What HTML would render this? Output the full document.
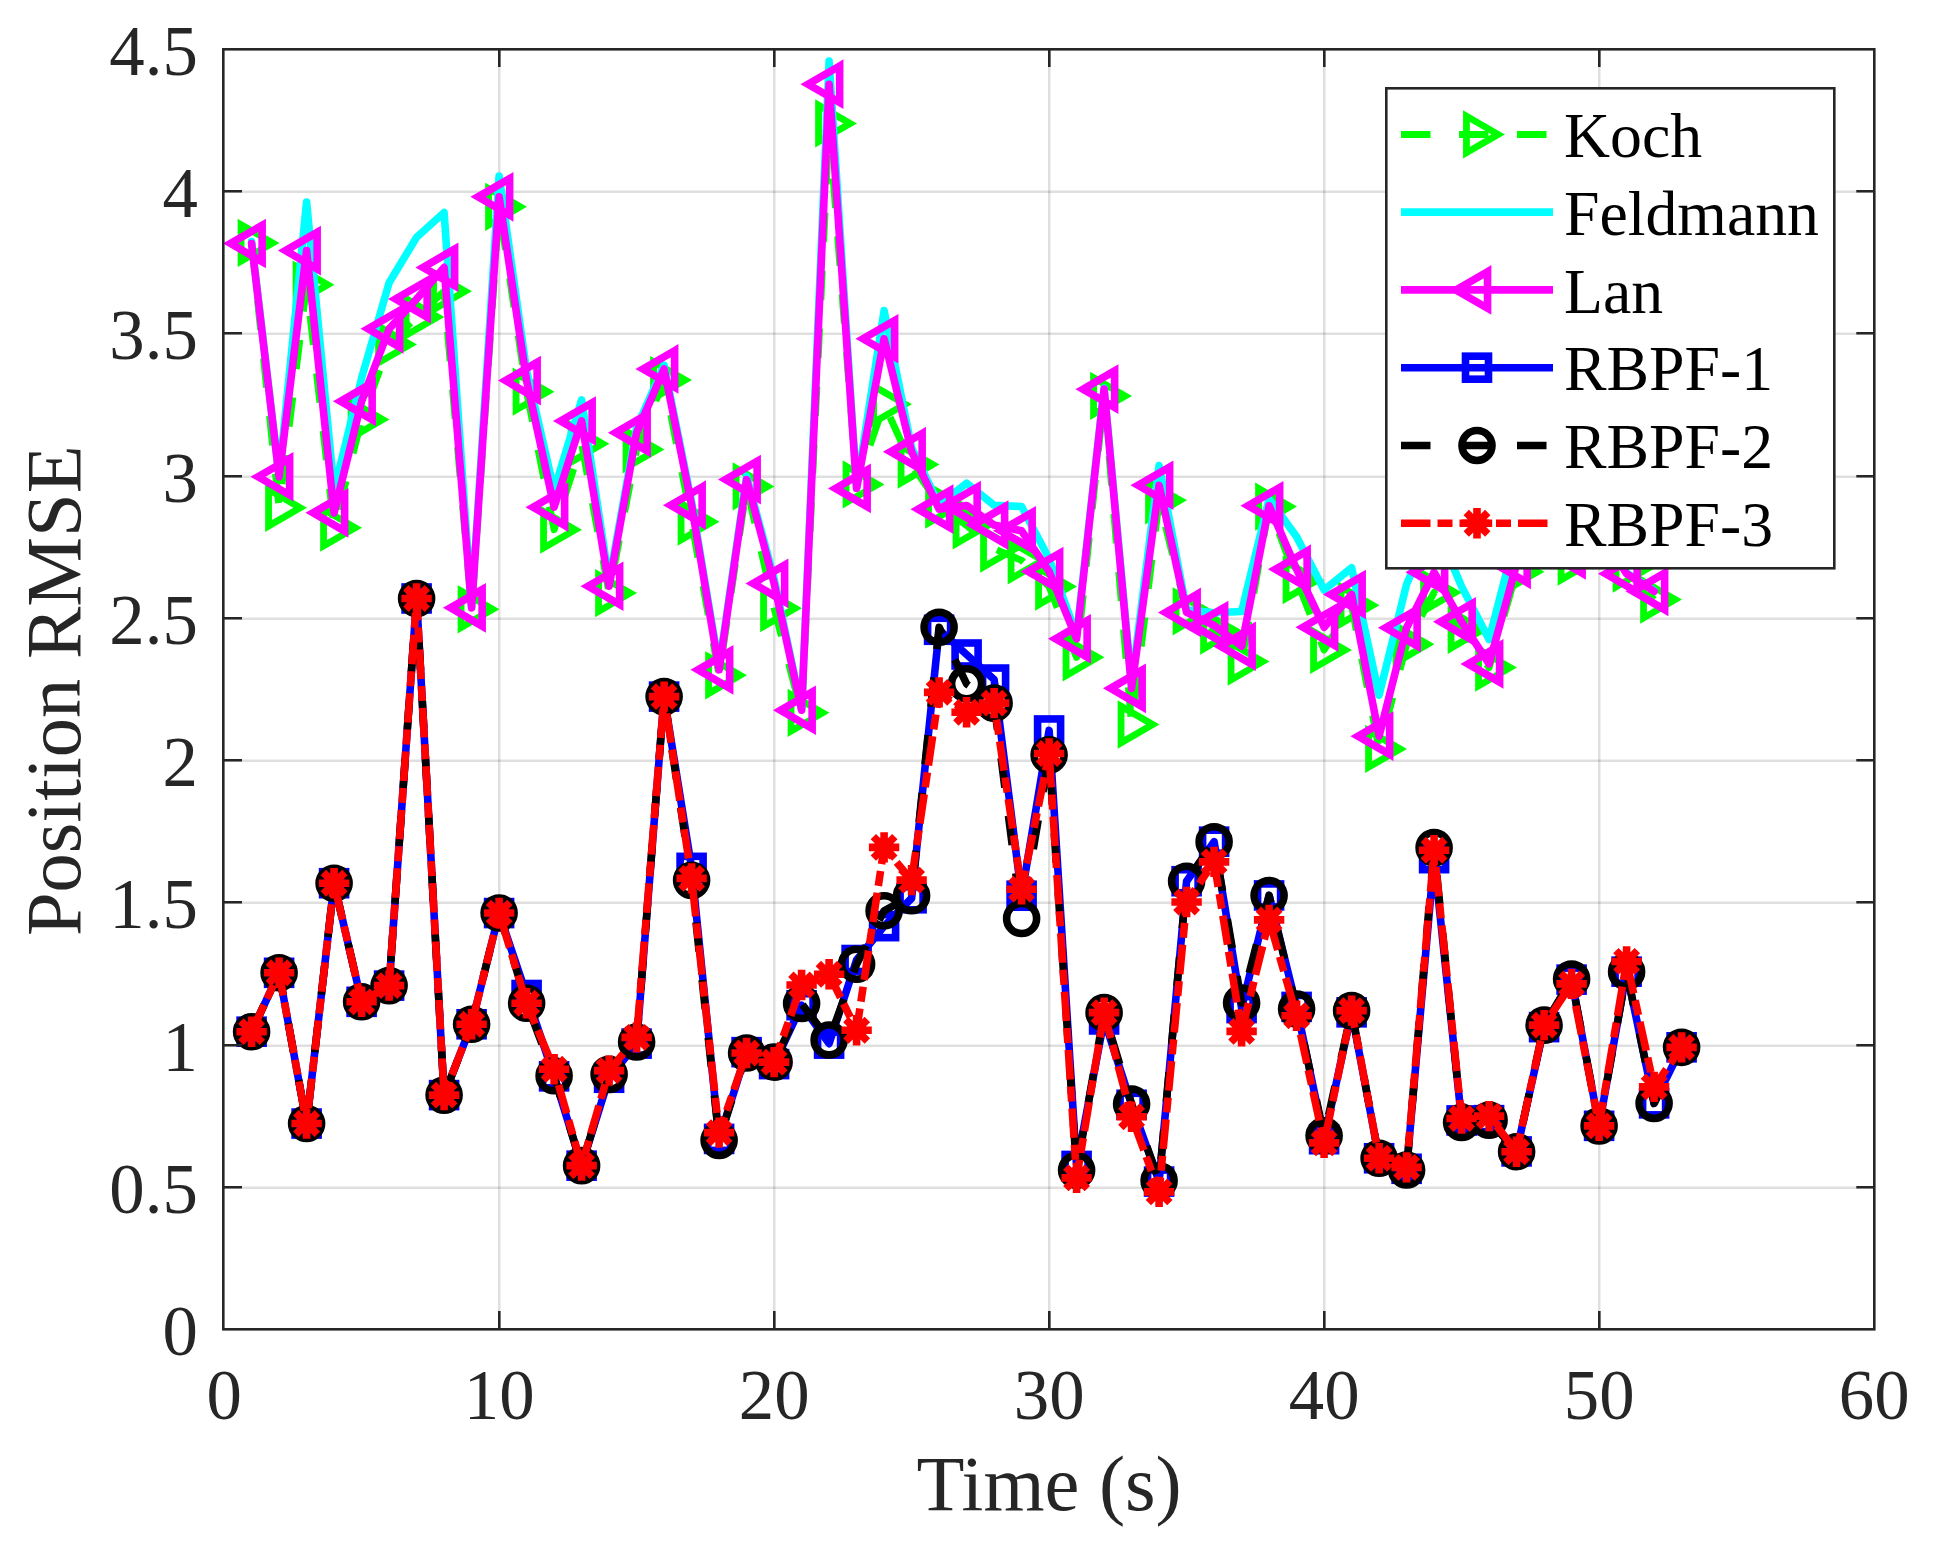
<!DOCTYPE html>
<html lang="en"><head><meta charset="utf-8"><title>Position RMSE</title>
<style>html,body{margin:0;padding:0;background:#fff}svg{display:block}text{font-family:"Liberation Serif",serif}</style>
</head><body>
<svg width="1938" height="1545" viewBox="0 0 1938 1545">
<rect width="1938" height="1545" fill="#fff"/>
<path d="M499.25 49.5 V1329.5 M774.25 49.5 V1329.5 M1049.25 49.5 V1329.5 M1324.25 49.5 V1329.5 M1599.25 49.5 V1329.5" stroke="#262626" stroke-opacity="0.15" stroke-width="2.5" fill="none"/>
<path d="M223.3 1187.75 H1874.3 M223.3 1045.75 H1874.3 M223.3 902.75 H1874.3 M223.3 760.75 H1874.3 M223.3 618.75 H1874.3 M223.3 476.75 H1874.3 M223.3 333.75 H1874.3 M223.3 191.75 H1874.3" stroke="#262626" stroke-opacity="0.15" stroke-width="2.5" fill="none"/>
<defs><clipPath id="ax"><rect x="224.1" y="49.5" width="1650" height="1280"/></clipPath></defs>
<g clip-path="url(#ax)">
<path d="M251.6 242.92 L279.1 507.74 L306.6 284.74 L334.1 527.65 L361.6 419.56 L389.1 344.47 L416.6 316.88 L444.1 291.28 L471.6 609.29 L499.1 206.8 L526.6 391.69 L554.1 529.64 L581.6 443.74 L609.1 593.07 L636.6 449.43 L664.1 380.02 L691.6 521.68 L719.1 675.28 L746.6 486.41 L774.1 608.15 L801.6 712.82 L829.1 123.46 L856.6 484.42 L884.1 404.2 L911.6 464.5 L939.1 504.61 L966.6 525.38 L994.1 548.7 L1021.6 560.36 L1049.1 586.53 L1076.6 657.36 L1104.1 395.95 L1131.6 724.49 L1159.1 500.34 L1186.6 611.28 L1214.1 630.62 L1241.6 661.62 L1269.1 506.6 L1296.6 579.99 L1324.1 649.96 L1351.6 605.3 L1379.1 748.95 L1406.6 644.27 L1434.1 592.5 L1461.6 629.77 L1489.1 667.6 L1516.6 571.74 L1544.1 538.74 L1571.6 561.5 L1599.1 538.74 L1626.6 568.61 L1654.1 599.62" fill="none" stroke="#00ff00" stroke-width="7" stroke-linejoin="round" stroke-linecap="butt" stroke-dasharray="29.5 28.5"/>
<g><path d="M241.06 224.67 L272.67 242.92 L241.06 261.17 Z" fill="none" stroke="#00ff00" stroke-width="6.8" stroke-linejoin="miter" stroke-miterlimit="10"/><path d="M268.56 489.49 L300.17 507.74 L268.56 525.99 Z" fill="none" stroke="#00ff00" stroke-width="6.8" stroke-linejoin="miter" stroke-miterlimit="10"/><path d="M296.06 266.49 L327.67 284.74 L296.06 302.99 Z" fill="none" stroke="#00ff00" stroke-width="6.8" stroke-linejoin="miter" stroke-miterlimit="10"/><path d="M323.56 509.4 L355.17 527.65 L323.56 545.9 Z" fill="none" stroke="#00ff00" stroke-width="6.8" stroke-linejoin="miter" stroke-miterlimit="10"/><path d="M351.06 401.31 L382.67 419.56 L351.06 437.81 Z" fill="none" stroke="#00ff00" stroke-width="6.8" stroke-linejoin="miter" stroke-miterlimit="10"/><path d="M378.56 326.22 L410.17 344.47 L378.56 362.72 Z" fill="none" stroke="#00ff00" stroke-width="6.8" stroke-linejoin="miter" stroke-miterlimit="10"/><path d="M406.06 298.63 L437.67 316.88 L406.06 335.13 Z" fill="none" stroke="#00ff00" stroke-width="6.8" stroke-linejoin="miter" stroke-miterlimit="10"/><path d="M433.56 273.03 L465.17 291.28 L433.56 309.53 Z" fill="none" stroke="#00ff00" stroke-width="6.8" stroke-linejoin="miter" stroke-miterlimit="10"/><path d="M461.06 591.04 L492.67 609.29 L461.06 627.54 Z" fill="none" stroke="#00ff00" stroke-width="6.8" stroke-linejoin="miter" stroke-miterlimit="10"/><path d="M488.56 188.55 L520.17 206.8 L488.56 225.05 Z" fill="none" stroke="#00ff00" stroke-width="6.8" stroke-linejoin="miter" stroke-miterlimit="10"/><path d="M516.06 373.44 L547.67 391.69 L516.06 409.94 Z" fill="none" stroke="#00ff00" stroke-width="6.8" stroke-linejoin="miter" stroke-miterlimit="10"/><path d="M543.56 511.39 L575.17 529.64 L543.56 547.89 Z" fill="none" stroke="#00ff00" stroke-width="6.8" stroke-linejoin="miter" stroke-miterlimit="10"/><path d="M571.06 425.49 L602.67 443.74 L571.06 461.99 Z" fill="none" stroke="#00ff00" stroke-width="6.8" stroke-linejoin="miter" stroke-miterlimit="10"/><path d="M598.56 574.82 L630.17 593.07 L598.56 611.32 Z" fill="none" stroke="#00ff00" stroke-width="6.8" stroke-linejoin="miter" stroke-miterlimit="10"/><path d="M626.06 431.18 L657.67 449.43 L626.06 467.68 Z" fill="none" stroke="#00ff00" stroke-width="6.8" stroke-linejoin="miter" stroke-miterlimit="10"/><path d="M653.56 361.77 L685.17 380.02 L653.56 398.27 Z" fill="none" stroke="#00ff00" stroke-width="6.8" stroke-linejoin="miter" stroke-miterlimit="10"/><path d="M681.06 503.43 L712.67 521.68 L681.06 539.93 Z" fill="none" stroke="#00ff00" stroke-width="6.8" stroke-linejoin="miter" stroke-miterlimit="10"/><path d="M708.56 657.03 L740.17 675.28 L708.56 693.53 Z" fill="none" stroke="#00ff00" stroke-width="6.8" stroke-linejoin="miter" stroke-miterlimit="10"/><path d="M736.06 468.16 L767.67 486.41 L736.06 504.66 Z" fill="none" stroke="#00ff00" stroke-width="6.8" stroke-linejoin="miter" stroke-miterlimit="10"/><path d="M763.56 589.9 L795.17 608.15 L763.56 626.4 Z" fill="none" stroke="#00ff00" stroke-width="6.8" stroke-linejoin="miter" stroke-miterlimit="10"/><path d="M791.06 694.57 L822.67 712.82 L791.06 731.07 Z" fill="none" stroke="#00ff00" stroke-width="6.8" stroke-linejoin="miter" stroke-miterlimit="10"/><path d="M818.56 105.21 L850.17 123.46 L818.56 141.71 Z" fill="none" stroke="#00ff00" stroke-width="6.8" stroke-linejoin="miter" stroke-miterlimit="10"/><path d="M846.06 466.17 L877.67 484.42 L846.06 502.67 Z" fill="none" stroke="#00ff00" stroke-width="6.8" stroke-linejoin="miter" stroke-miterlimit="10"/><path d="M873.56 385.95 L905.17 404.2 L873.56 422.45 Z" fill="none" stroke="#00ff00" stroke-width="6.8" stroke-linejoin="miter" stroke-miterlimit="10"/><path d="M901.06 446.25 L932.67 464.5 L901.06 482.75 Z" fill="none" stroke="#00ff00" stroke-width="6.8" stroke-linejoin="miter" stroke-miterlimit="10"/><path d="M928.56 486.36 L960.17 504.61 L928.56 522.86 Z" fill="none" stroke="#00ff00" stroke-width="6.8" stroke-linejoin="miter" stroke-miterlimit="10"/><path d="M956.06 507.13 L987.67 525.38 L956.06 543.63 Z" fill="none" stroke="#00ff00" stroke-width="6.8" stroke-linejoin="miter" stroke-miterlimit="10"/><path d="M983.56 530.45 L1015.17 548.7 L983.56 566.95 Z" fill="none" stroke="#00ff00" stroke-width="6.8" stroke-linejoin="miter" stroke-miterlimit="10"/><path d="M1011.06 542.11 L1042.67 560.36 L1011.06 578.61 Z" fill="none" stroke="#00ff00" stroke-width="6.8" stroke-linejoin="miter" stroke-miterlimit="10"/><path d="M1038.56 568.28 L1070.17 586.53 L1038.56 604.78 Z" fill="none" stroke="#00ff00" stroke-width="6.8" stroke-linejoin="miter" stroke-miterlimit="10"/><path d="M1066.06 639.11 L1097.67 657.36 L1066.06 675.61 Z" fill="none" stroke="#00ff00" stroke-width="6.8" stroke-linejoin="miter" stroke-miterlimit="10"/><path d="M1093.56 377.7 L1125.17 395.95 L1093.56 414.2 Z" fill="none" stroke="#00ff00" stroke-width="6.8" stroke-linejoin="miter" stroke-miterlimit="10"/><path d="M1121.06 706.24 L1152.67 724.49 L1121.06 742.74 Z" fill="none" stroke="#00ff00" stroke-width="6.8" stroke-linejoin="miter" stroke-miterlimit="10"/><path d="M1148.56 482.09 L1180.17 500.34 L1148.56 518.59 Z" fill="none" stroke="#00ff00" stroke-width="6.8" stroke-linejoin="miter" stroke-miterlimit="10"/><path d="M1176.06 593.03 L1207.67 611.28 L1176.06 629.53 Z" fill="none" stroke="#00ff00" stroke-width="6.8" stroke-linejoin="miter" stroke-miterlimit="10"/><path d="M1203.56 612.37 L1235.17 630.62 L1203.56 648.87 Z" fill="none" stroke="#00ff00" stroke-width="6.8" stroke-linejoin="miter" stroke-miterlimit="10"/><path d="M1231.06 643.37 L1262.67 661.62 L1231.06 679.87 Z" fill="none" stroke="#00ff00" stroke-width="6.8" stroke-linejoin="miter" stroke-miterlimit="10"/><path d="M1258.56 488.35 L1290.17 506.6 L1258.56 524.85 Z" fill="none" stroke="#00ff00" stroke-width="6.8" stroke-linejoin="miter" stroke-miterlimit="10"/><path d="M1286.06 561.74 L1317.67 579.99 L1286.06 598.24 Z" fill="none" stroke="#00ff00" stroke-width="6.8" stroke-linejoin="miter" stroke-miterlimit="10"/><path d="M1313.56 631.71 L1345.17 649.96 L1313.56 668.21 Z" fill="none" stroke="#00ff00" stroke-width="6.8" stroke-linejoin="miter" stroke-miterlimit="10"/><path d="M1341.06 587.05 L1372.67 605.3 L1341.06 623.55 Z" fill="none" stroke="#00ff00" stroke-width="6.8" stroke-linejoin="miter" stroke-miterlimit="10"/><path d="M1368.56 730.7 L1400.17 748.95 L1368.56 767.2 Z" fill="none" stroke="#00ff00" stroke-width="6.8" stroke-linejoin="miter" stroke-miterlimit="10"/><path d="M1396.06 626.02 L1427.67 644.27 L1396.06 662.52 Z" fill="none" stroke="#00ff00" stroke-width="6.8" stroke-linejoin="miter" stroke-miterlimit="10"/><path d="M1423.56 574.25 L1455.17 592.5 L1423.56 610.75 Z" fill="none" stroke="#00ff00" stroke-width="6.8" stroke-linejoin="miter" stroke-miterlimit="10"/><path d="M1451.06 611.52 L1482.67 629.77 L1451.06 648.02 Z" fill="none" stroke="#00ff00" stroke-width="6.8" stroke-linejoin="miter" stroke-miterlimit="10"/><path d="M1478.56 649.35 L1510.17 667.6 L1478.56 685.85 Z" fill="none" stroke="#00ff00" stroke-width="6.8" stroke-linejoin="miter" stroke-miterlimit="10"/><path d="M1506.06 553.49 L1537.67 571.74 L1506.06 589.99 Z" fill="none" stroke="#00ff00" stroke-width="6.8" stroke-linejoin="miter" stroke-miterlimit="10"/><path d="M1533.56 520.49 L1565.17 538.74 L1533.56 556.99 Z" fill="none" stroke="#00ff00" stroke-width="6.8" stroke-linejoin="miter" stroke-miterlimit="10"/><path d="M1561.06 543.25 L1592.67 561.5 L1561.06 579.75 Z" fill="none" stroke="#00ff00" stroke-width="6.8" stroke-linejoin="miter" stroke-miterlimit="10"/><path d="M1588.56 520.49 L1620.17 538.74 L1588.56 556.99 Z" fill="none" stroke="#00ff00" stroke-width="6.8" stroke-linejoin="miter" stroke-miterlimit="10"/><path d="M1616.06 550.36 L1647.67 568.61 L1616.06 586.86 Z" fill="none" stroke="#00ff00" stroke-width="6.8" stroke-linejoin="miter" stroke-miterlimit="10"/><path d="M1643.56 581.37 L1675.17 599.62 L1643.56 617.87 Z" fill="none" stroke="#00ff00" stroke-width="6.8" stroke-linejoin="miter" stroke-miterlimit="10"/></g>
<path d="M251.6 241.5 L279.1 476.17 L306.6 201.96 L334.1 490.39 L361.6 378.03 L389.1 282.74 L416.6 237.23 L444.1 212.49 L471.6 607.01 L499.1 176.08 L526.6 370.92 L554.1 490.39 L581.6 399.94 L609.1 581.41 L636.6 427.81 L664.1 365.23 L691.6 501.77 L719.1 666.74 L746.6 476.17 L774.1 578.57 L801.6 709.41 L829.1 61.16 L856.6 487.54 L884.1 310.62 L911.6 447.72 L939.1 504.61 L966.6 483.28 L994.1 505.18 L1021.6 506.6 L1049.1 558.66 L1076.6 635.46 L1104.1 387.99 L1131.6 683.81 L1159.1 465.64 L1186.6 609.86 L1214.1 612.7 L1241.6 611.56 L1269.1 498.92 L1296.6 536.75 L1324.1 589.94 L1351.6 567.76 L1379.1 695.19 L1406.6 584.26 L1434.1 521.68 L1461.6 586.53 L1489.1 639.44 L1516.6 533.06 L1544.1 518.83 L1571.6 533.06 L1599.1 518.83 L1626.6 572.88 L1654.1 590.8" fill="none" stroke="#00ffff" stroke-width="7.6" stroke-linejoin="round" stroke-linecap="round"/>
<path d="M251.6 243.49 L279.1 476.74 L306.6 250.6 L334.1 512.86 L361.6 401.36 L389.1 328.82 L416.6 298.96 L444.1 267.38 L471.6 607.86 L499.1 196.84 L526.6 380.59 L554.1 507.17 L581.6 420.98 L609.1 586.25 L636.6 432.65 L664.1 368.93 L691.6 505.18 L719.1 669.87 L746.6 479.58 L774.1 583.4 L801.6 710.26 L829.1 84.2 L856.6 488.4 L884.1 338.78 L911.6 451.7 L939.1 509.16 L966.6 505.46 L994.1 525.09 L1021.6 530.78 L1049.1 571.46 L1076.6 638.87 L1104.1 389.13 L1131.6 688.36 L1159.1 485.27 L1186.6 612.42 L1214.1 625.5 L1241.6 646.26 L1269.1 505.75 L1296.6 569.18 L1324.1 627.21 L1351.6 594.5 L1379.1 736.15 L1406.6 627.78 L1434.1 572.31 L1461.6 621.8 L1489.1 663.9 L1516.6 564.34 L1544.1 538.74 L1571.6 554.96 L1599.1 533.06 L1626.6 573.73 L1654.1 591.37" fill="none" stroke="#ff00ff" stroke-width="7.6" stroke-linejoin="round" stroke-linecap="round"/>
<g><path d="M262.14 225.24 L230.53 243.49 L262.14 261.74 Z" fill="none" stroke="#ff00ff" stroke-width="7.6" stroke-linejoin="miter" stroke-miterlimit="10"/><path d="M289.64 458.49 L258.03 476.74 L289.64 494.99 Z" fill="none" stroke="#ff00ff" stroke-width="7.6" stroke-linejoin="miter" stroke-miterlimit="10"/><path d="M317.14 232.35 L285.53 250.6 L317.14 268.85 Z" fill="none" stroke="#ff00ff" stroke-width="7.6" stroke-linejoin="miter" stroke-miterlimit="10"/><path d="M344.64 494.61 L313.03 512.86 L344.64 531.11 Z" fill="none" stroke="#ff00ff" stroke-width="7.6" stroke-linejoin="miter" stroke-miterlimit="10"/><path d="M372.14 383.11 L340.53 401.36 L372.14 419.61 Z" fill="none" stroke="#ff00ff" stroke-width="7.6" stroke-linejoin="miter" stroke-miterlimit="10"/><path d="M399.64 310.57 L368.03 328.82 L399.64 347.07 Z" fill="none" stroke="#ff00ff" stroke-width="7.6" stroke-linejoin="miter" stroke-miterlimit="10"/><path d="M427.14 280.71 L395.53 298.96 L427.14 317.21 Z" fill="none" stroke="#ff00ff" stroke-width="7.6" stroke-linejoin="miter" stroke-miterlimit="10"/><path d="M454.64 249.13 L423.03 267.38 L454.64 285.63 Z" fill="none" stroke="#ff00ff" stroke-width="7.6" stroke-linejoin="miter" stroke-miterlimit="10"/><path d="M482.14 589.61 L450.53 607.86 L482.14 626.11 Z" fill="none" stroke="#ff00ff" stroke-width="7.6" stroke-linejoin="miter" stroke-miterlimit="10"/><path d="M509.64 178.59 L478.03 196.84 L509.64 215.09 Z" fill="none" stroke="#ff00ff" stroke-width="7.6" stroke-linejoin="miter" stroke-miterlimit="10"/><path d="M537.14 362.34 L505.53 380.59 L537.14 398.84 Z" fill="none" stroke="#ff00ff" stroke-width="7.6" stroke-linejoin="miter" stroke-miterlimit="10"/><path d="M564.64 488.92 L533.03 507.17 L564.64 525.42 Z" fill="none" stroke="#ff00ff" stroke-width="7.6" stroke-linejoin="miter" stroke-miterlimit="10"/><path d="M592.14 402.73 L560.53 420.98 L592.14 439.23 Z" fill="none" stroke="#ff00ff" stroke-width="7.6" stroke-linejoin="miter" stroke-miterlimit="10"/><path d="M619.64 568 L588.03 586.25 L619.64 604.5 Z" fill="none" stroke="#ff00ff" stroke-width="7.6" stroke-linejoin="miter" stroke-miterlimit="10"/><path d="M647.14 414.4 L615.53 432.65 L647.14 450.9 Z" fill="none" stroke="#ff00ff" stroke-width="7.6" stroke-linejoin="miter" stroke-miterlimit="10"/><path d="M674.64 350.68 L643.03 368.93 L674.64 387.18 Z" fill="none" stroke="#ff00ff" stroke-width="7.6" stroke-linejoin="miter" stroke-miterlimit="10"/><path d="M702.14 486.93 L670.53 505.18 L702.14 523.43 Z" fill="none" stroke="#ff00ff" stroke-width="7.6" stroke-linejoin="miter" stroke-miterlimit="10"/><path d="M729.64 651.62 L698.03 669.87 L729.64 688.12 Z" fill="none" stroke="#ff00ff" stroke-width="7.6" stroke-linejoin="miter" stroke-miterlimit="10"/><path d="M757.14 461.33 L725.53 479.58 L757.14 497.83 Z" fill="none" stroke="#ff00ff" stroke-width="7.6" stroke-linejoin="miter" stroke-miterlimit="10"/><path d="M784.64 565.15 L753.03 583.4 L784.64 601.65 Z" fill="none" stroke="#ff00ff" stroke-width="7.6" stroke-linejoin="miter" stroke-miterlimit="10"/><path d="M812.14 692.01 L780.53 710.26 L812.14 728.51 Z" fill="none" stroke="#ff00ff" stroke-width="7.6" stroke-linejoin="miter" stroke-miterlimit="10"/><path d="M839.64 65.95 L808.03 84.2 L839.64 102.45 Z" fill="none" stroke="#ff00ff" stroke-width="7.6" stroke-linejoin="miter" stroke-miterlimit="10"/><path d="M867.14 470.15 L835.53 488.4 L867.14 506.65 Z" fill="none" stroke="#ff00ff" stroke-width="7.6" stroke-linejoin="miter" stroke-miterlimit="10"/><path d="M894.64 320.53 L863.03 338.78 L894.64 357.03 Z" fill="none" stroke="#ff00ff" stroke-width="7.6" stroke-linejoin="miter" stroke-miterlimit="10"/><path d="M922.14 433.45 L890.53 451.7 L922.14 469.95 Z" fill="none" stroke="#ff00ff" stroke-width="7.6" stroke-linejoin="miter" stroke-miterlimit="10"/><path d="M949.64 490.91 L918.03 509.16 L949.64 527.41 Z" fill="none" stroke="#ff00ff" stroke-width="7.6" stroke-linejoin="miter" stroke-miterlimit="10"/><path d="M977.14 487.21 L945.53 505.46 L977.14 523.71 Z" fill="none" stroke="#ff00ff" stroke-width="7.6" stroke-linejoin="miter" stroke-miterlimit="10"/><path d="M1004.64 506.84 L973.03 525.09 L1004.64 543.34 Z" fill="none" stroke="#ff00ff" stroke-width="7.6" stroke-linejoin="miter" stroke-miterlimit="10"/><path d="M1032.14 512.53 L1000.53 530.78 L1032.14 549.03 Z" fill="none" stroke="#ff00ff" stroke-width="7.6" stroke-linejoin="miter" stroke-miterlimit="10"/><path d="M1059.64 553.21 L1028.03 571.46 L1059.64 589.71 Z" fill="none" stroke="#ff00ff" stroke-width="7.6" stroke-linejoin="miter" stroke-miterlimit="10"/><path d="M1087.14 620.62 L1055.53 638.87 L1087.14 657.12 Z" fill="none" stroke="#ff00ff" stroke-width="7.6" stroke-linejoin="miter" stroke-miterlimit="10"/><path d="M1114.64 370.88 L1083.03 389.13 L1114.64 407.38 Z" fill="none" stroke="#ff00ff" stroke-width="7.6" stroke-linejoin="miter" stroke-miterlimit="10"/><path d="M1142.14 670.11 L1110.53 688.36 L1142.14 706.61 Z" fill="none" stroke="#ff00ff" stroke-width="7.6" stroke-linejoin="miter" stroke-miterlimit="10"/><path d="M1169.64 467.02 L1138.03 485.27 L1169.64 503.52 Z" fill="none" stroke="#ff00ff" stroke-width="7.6" stroke-linejoin="miter" stroke-miterlimit="10"/><path d="M1197.14 594.17 L1165.53 612.42 L1197.14 630.67 Z" fill="none" stroke="#ff00ff" stroke-width="7.6" stroke-linejoin="miter" stroke-miterlimit="10"/><path d="M1224.64 607.25 L1193.03 625.5 L1224.64 643.75 Z" fill="none" stroke="#ff00ff" stroke-width="7.6" stroke-linejoin="miter" stroke-miterlimit="10"/><path d="M1252.14 628.01 L1220.53 646.26 L1252.14 664.51 Z" fill="none" stroke="#ff00ff" stroke-width="7.6" stroke-linejoin="miter" stroke-miterlimit="10"/><path d="M1279.64 487.5 L1248.03 505.75 L1279.64 524 Z" fill="none" stroke="#ff00ff" stroke-width="7.6" stroke-linejoin="miter" stroke-miterlimit="10"/><path d="M1307.14 550.93 L1275.53 569.18 L1307.14 587.43 Z" fill="none" stroke="#ff00ff" stroke-width="7.6" stroke-linejoin="miter" stroke-miterlimit="10"/><path d="M1334.64 608.96 L1303.03 627.21 L1334.64 645.46 Z" fill="none" stroke="#ff00ff" stroke-width="7.6" stroke-linejoin="miter" stroke-miterlimit="10"/><path d="M1362.14 576.25 L1330.53 594.5 L1362.14 612.75 Z" fill="none" stroke="#ff00ff" stroke-width="7.6" stroke-linejoin="miter" stroke-miterlimit="10"/><path d="M1389.64 717.9 L1358.03 736.15 L1389.64 754.4 Z" fill="none" stroke="#ff00ff" stroke-width="7.6" stroke-linejoin="miter" stroke-miterlimit="10"/><path d="M1417.14 609.53 L1385.53 627.78 L1417.14 646.03 Z" fill="none" stroke="#ff00ff" stroke-width="7.6" stroke-linejoin="miter" stroke-miterlimit="10"/><path d="M1444.64 554.06 L1413.03 572.31 L1444.64 590.56 Z" fill="none" stroke="#ff00ff" stroke-width="7.6" stroke-linejoin="miter" stroke-miterlimit="10"/><path d="M1472.14 603.55 L1440.53 621.8 L1472.14 640.05 Z" fill="none" stroke="#ff00ff" stroke-width="7.6" stroke-linejoin="miter" stroke-miterlimit="10"/><path d="M1499.64 645.65 L1468.03 663.9 L1499.64 682.15 Z" fill="none" stroke="#ff00ff" stroke-width="7.6" stroke-linejoin="miter" stroke-miterlimit="10"/><path d="M1527.14 546.09 L1495.53 564.34 L1527.14 582.59 Z" fill="none" stroke="#ff00ff" stroke-width="7.6" stroke-linejoin="miter" stroke-miterlimit="10"/><path d="M1554.64 520.49 L1523.03 538.74 L1554.64 556.99 Z" fill="none" stroke="#ff00ff" stroke-width="7.6" stroke-linejoin="miter" stroke-miterlimit="10"/><path d="M1582.14 536.71 L1550.53 554.96 L1582.14 573.21 Z" fill="none" stroke="#ff00ff" stroke-width="7.6" stroke-linejoin="miter" stroke-miterlimit="10"/><path d="M1609.64 514.81 L1578.03 533.06 L1609.64 551.31 Z" fill="none" stroke="#ff00ff" stroke-width="7.6" stroke-linejoin="miter" stroke-miterlimit="10"/><path d="M1637.14 555.48 L1605.53 573.73 L1637.14 591.98 Z" fill="none" stroke="#ff00ff" stroke-width="7.6" stroke-linejoin="miter" stroke-miterlimit="10"/><path d="M1664.64 573.12 L1633.03 591.37 L1664.64 609.62 Z" fill="none" stroke="#ff00ff" stroke-width="7.6" stroke-linejoin="miter" stroke-miterlimit="10"/></g>
<path d="M251.6 1031.69 L279.1 972.81 L306.6 1123.56 L334.1 883.21 L361.6 1001.82 L389.1 985.61 L416.6 598.48 L444.1 1095.12 L471.6 1024.29 L499.1 913.07 L526.6 994.99 L554.1 1076.34 L581.6 1165.66 L609.1 1077.77 L636.6 1043.63 L664.1 696.61 L691.6 867.85 L719.1 1138.92 L746.6 1052.17 L774.1 1064.11 L801.6 1005.23 L829.1 1043.63 L856.6 960.01 L884.1 926.16 L911.6 898.28 L939.1 629.77 L966.6 654.51 L994.1 679.54 L1021.6 895.72 L1049.1 730.46 L1076.6 1165.94 L1104.1 1019.46 L1131.6 1104.79 L1159.1 1181.59 L1186.6 881.22 L1214.1 841.68 L1241.6 1008.08 L1269.1 895.44 L1296.6 1006.94 L1324.1 1139.21 L1351.6 1012.34 L1379.1 1158.26 L1406.6 1168.79 L1434.1 858.18 L1461.6 1120.43 L1489.1 1120.15 L1516.6 1151.44 L1544.1 1027.14 L1571.6 979.63 L1599.1 1125.84 L1626.6 971.67 L1654.1 1103.37 L1681.6 1047.33" fill="none" stroke="#0000ff" stroke-width="7.6" stroke-linejoin="round" stroke-linecap="round"/>
<g><rect x="240.1" y="1020.19" width="23" height="23" fill="none" stroke="#0000ff" stroke-width="7.6"/><rect x="267.6" y="961.31" width="23" height="23" fill="none" stroke="#0000ff" stroke-width="7.6"/><rect x="295.1" y="1112.06" width="23" height="23" fill="none" stroke="#0000ff" stroke-width="7.6"/><rect x="322.6" y="871.71" width="23" height="23" fill="none" stroke="#0000ff" stroke-width="7.6"/><rect x="350.1" y="990.32" width="23" height="23" fill="none" stroke="#0000ff" stroke-width="7.6"/><rect x="377.6" y="974.11" width="23" height="23" fill="none" stroke="#0000ff" stroke-width="7.6"/><rect x="405.1" y="586.98" width="23" height="23" fill="none" stroke="#0000ff" stroke-width="7.6"/><rect x="432.6" y="1083.62" width="23" height="23" fill="none" stroke="#0000ff" stroke-width="7.6"/><rect x="460.1" y="1012.79" width="23" height="23" fill="none" stroke="#0000ff" stroke-width="7.6"/><rect x="487.6" y="901.57" width="23" height="23" fill="none" stroke="#0000ff" stroke-width="7.6"/><rect x="515.1" y="983.49" width="23" height="23" fill="none" stroke="#0000ff" stroke-width="7.6"/><rect x="542.6" y="1064.84" width="23" height="23" fill="none" stroke="#0000ff" stroke-width="7.6"/><rect x="570.1" y="1154.16" width="23" height="23" fill="none" stroke="#0000ff" stroke-width="7.6"/><rect x="597.6" y="1066.27" width="23" height="23" fill="none" stroke="#0000ff" stroke-width="7.6"/><rect x="625.1" y="1032.13" width="23" height="23" fill="none" stroke="#0000ff" stroke-width="7.6"/><rect x="652.6" y="685.11" width="23" height="23" fill="none" stroke="#0000ff" stroke-width="7.6"/><rect x="680.1" y="856.35" width="23" height="23" fill="none" stroke="#0000ff" stroke-width="7.6"/><rect x="707.6" y="1127.42" width="23" height="23" fill="none" stroke="#0000ff" stroke-width="7.6"/><rect x="735.1" y="1040.67" width="23" height="23" fill="none" stroke="#0000ff" stroke-width="7.6"/><rect x="762.6" y="1052.61" width="23" height="23" fill="none" stroke="#0000ff" stroke-width="7.6"/><rect x="790.1" y="993.73" width="23" height="23" fill="none" stroke="#0000ff" stroke-width="7.6"/><rect x="817.6" y="1032.13" width="23" height="23" fill="none" stroke="#0000ff" stroke-width="7.6"/><rect x="845.1" y="948.51" width="23" height="23" fill="none" stroke="#0000ff" stroke-width="7.6"/><rect x="872.6" y="914.66" width="23" height="23" fill="none" stroke="#0000ff" stroke-width="7.6"/><rect x="900.1" y="886.78" width="23" height="23" fill="none" stroke="#0000ff" stroke-width="7.6"/><rect x="927.6" y="618.27" width="23" height="23" fill="none" stroke="#0000ff" stroke-width="7.6"/><rect x="955.1" y="643.01" width="23" height="23" fill="none" stroke="#0000ff" stroke-width="7.6"/><rect x="982.6" y="668.04" width="23" height="23" fill="none" stroke="#0000ff" stroke-width="7.6"/><rect x="1010.1" y="884.22" width="23" height="23" fill="none" stroke="#0000ff" stroke-width="7.6"/><rect x="1037.6" y="718.96" width="23" height="23" fill="none" stroke="#0000ff" stroke-width="7.6"/><rect x="1065.1" y="1154.44" width="23" height="23" fill="none" stroke="#0000ff" stroke-width="7.6"/><rect x="1092.6" y="1007.96" width="23" height="23" fill="none" stroke="#0000ff" stroke-width="7.6"/><rect x="1120.1" y="1093.29" width="23" height="23" fill="none" stroke="#0000ff" stroke-width="7.6"/><rect x="1147.6" y="1170.09" width="23" height="23" fill="none" stroke="#0000ff" stroke-width="7.6"/><rect x="1175.1" y="869.72" width="23" height="23" fill="none" stroke="#0000ff" stroke-width="7.6"/><rect x="1202.6" y="830.18" width="23" height="23" fill="none" stroke="#0000ff" stroke-width="7.6"/><rect x="1230.1" y="996.58" width="23" height="23" fill="none" stroke="#0000ff" stroke-width="7.6"/><rect x="1257.6" y="883.94" width="23" height="23" fill="none" stroke="#0000ff" stroke-width="7.6"/><rect x="1285.1" y="995.44" width="23" height="23" fill="none" stroke="#0000ff" stroke-width="7.6"/><rect x="1312.6" y="1127.71" width="23" height="23" fill="none" stroke="#0000ff" stroke-width="7.6"/><rect x="1340.1" y="1000.84" width="23" height="23" fill="none" stroke="#0000ff" stroke-width="7.6"/><rect x="1367.6" y="1146.76" width="23" height="23" fill="none" stroke="#0000ff" stroke-width="7.6"/><rect x="1395.1" y="1157.29" width="23" height="23" fill="none" stroke="#0000ff" stroke-width="7.6"/><rect x="1422.6" y="846.68" width="23" height="23" fill="none" stroke="#0000ff" stroke-width="7.6"/><rect x="1450.1" y="1108.93" width="23" height="23" fill="none" stroke="#0000ff" stroke-width="7.6"/><rect x="1477.6" y="1108.65" width="23" height="23" fill="none" stroke="#0000ff" stroke-width="7.6"/><rect x="1505.1" y="1139.94" width="23" height="23" fill="none" stroke="#0000ff" stroke-width="7.6"/><rect x="1532.6" y="1015.64" width="23" height="23" fill="none" stroke="#0000ff" stroke-width="7.6"/><rect x="1560.1" y="968.13" width="23" height="23" fill="none" stroke="#0000ff" stroke-width="7.6"/><rect x="1587.6" y="1114.34" width="23" height="23" fill="none" stroke="#0000ff" stroke-width="7.6"/><rect x="1615.1" y="960.17" width="23" height="23" fill="none" stroke="#0000ff" stroke-width="7.6"/><rect x="1642.6" y="1091.87" width="23" height="23" fill="none" stroke="#0000ff" stroke-width="7.6"/><rect x="1670.1" y="1035.83" width="23" height="23" fill="none" stroke="#0000ff" stroke-width="7.6"/></g>
<path d="M251.6 1031.69 L279.1 972.81 L306.6 1123.56 L334.1 883.21 L361.6 1001.82 L389.1 985.61 L416.6 598.48 L444.1 1095.12 L471.6 1024.29 L499.1 913.07 L526.6 1003.24 L554.1 1075.78 L581.6 1165.66 L609.1 1074.35 L636.6 1041.93 L664.1 696.61 L691.6 880.36 L719.1 1140.34 L746.6 1053.02 L774.1 1062.12 L801.6 1003.53 L829.1 1039.94 L856.6 964.27 L884.1 910.8 L911.6 895.72 L939.1 627.21 L966.6 683.81 L994.1 703.15 L1021.6 918.48 L1049.1 754.92 L1076.6 1170.21 L1104.1 1012.63 L1131.6 1103.94 L1159.1 1180.74 L1186.6 881.22 L1214.1 841.68 L1241.6 1002.96 L1269.1 895.44 L1296.6 1008.93 L1324.1 1135.79 L1351.6 1010.64 L1379.1 1158.26 L1406.6 1169.93 L1434.1 847.65 L1461.6 1122.42 L1489.1 1120.15 L1516.6 1151.72 L1544.1 1025.14 L1571.6 979.06 L1599.1 1125.84 L1626.6 971.67 L1654.1 1103.37 L1681.6 1047.33" fill="none" stroke="#000000" stroke-width="7.6" stroke-linejoin="round" stroke-linecap="butt" stroke-dasharray="29.5 28.5"/>
<g><circle cx="251.6" cy="1031.69" r="15" fill="none" stroke="#000000" stroke-width="7.6"/><circle cx="279.1" cy="972.81" r="15" fill="none" stroke="#000000" stroke-width="7.6"/><circle cx="306.6" cy="1123.56" r="15" fill="none" stroke="#000000" stroke-width="7.6"/><circle cx="334.1" cy="883.21" r="15" fill="none" stroke="#000000" stroke-width="7.6"/><circle cx="361.6" cy="1001.82" r="15" fill="none" stroke="#000000" stroke-width="7.6"/><circle cx="389.1" cy="985.61" r="15" fill="none" stroke="#000000" stroke-width="7.6"/><circle cx="416.6" cy="598.48" r="15" fill="none" stroke="#000000" stroke-width="7.6"/><circle cx="444.1" cy="1095.12" r="15" fill="none" stroke="#000000" stroke-width="7.6"/><circle cx="471.6" cy="1024.29" r="15" fill="none" stroke="#000000" stroke-width="7.6"/><circle cx="499.1" cy="913.07" r="15" fill="none" stroke="#000000" stroke-width="7.6"/><circle cx="526.6" cy="1003.24" r="15" fill="none" stroke="#000000" stroke-width="7.6"/><circle cx="554.1" cy="1075.78" r="15" fill="none" stroke="#000000" stroke-width="7.6"/><circle cx="581.6" cy="1165.66" r="15" fill="none" stroke="#000000" stroke-width="7.6"/><circle cx="609.1" cy="1074.35" r="15" fill="none" stroke="#000000" stroke-width="7.6"/><circle cx="636.6" cy="1041.93" r="15" fill="none" stroke="#000000" stroke-width="7.6"/><circle cx="664.1" cy="696.61" r="15" fill="none" stroke="#000000" stroke-width="7.6"/><circle cx="691.6" cy="880.36" r="15" fill="none" stroke="#000000" stroke-width="7.6"/><circle cx="719.1" cy="1140.34" r="15" fill="none" stroke="#000000" stroke-width="7.6"/><circle cx="746.6" cy="1053.02" r="15" fill="none" stroke="#000000" stroke-width="7.6"/><circle cx="774.1" cy="1062.12" r="15" fill="none" stroke="#000000" stroke-width="7.6"/><circle cx="801.6" cy="1003.53" r="15" fill="none" stroke="#000000" stroke-width="7.6"/><circle cx="829.1" cy="1039.94" r="15" fill="none" stroke="#000000" stroke-width="7.6"/><circle cx="856.6" cy="964.27" r="15" fill="none" stroke="#000000" stroke-width="7.6"/><circle cx="884.1" cy="910.8" r="15" fill="none" stroke="#000000" stroke-width="7.6"/><circle cx="911.6" cy="895.72" r="15" fill="none" stroke="#000000" stroke-width="7.6"/><circle cx="939.1" cy="627.21" r="15" fill="none" stroke="#000000" stroke-width="7.6"/><circle cx="966.6" cy="683.81" r="15" fill="none" stroke="#000000" stroke-width="7.6"/><circle cx="994.1" cy="703.15" r="15" fill="none" stroke="#000000" stroke-width="7.6"/><circle cx="1021.6" cy="918.48" r="15" fill="none" stroke="#000000" stroke-width="7.6"/><circle cx="1049.1" cy="754.92" r="15" fill="none" stroke="#000000" stroke-width="7.6"/><circle cx="1076.6" cy="1170.21" r="15" fill="none" stroke="#000000" stroke-width="7.6"/><circle cx="1104.1" cy="1012.63" r="15" fill="none" stroke="#000000" stroke-width="7.6"/><circle cx="1131.6" cy="1103.94" r="15" fill="none" stroke="#000000" stroke-width="7.6"/><circle cx="1159.1" cy="1180.74" r="15" fill="none" stroke="#000000" stroke-width="7.6"/><circle cx="1186.6" cy="881.22" r="15" fill="none" stroke="#000000" stroke-width="7.6"/><circle cx="1214.1" cy="841.68" r="15" fill="none" stroke="#000000" stroke-width="7.6"/><circle cx="1241.6" cy="1002.96" r="15" fill="none" stroke="#000000" stroke-width="7.6"/><circle cx="1269.1" cy="895.44" r="15" fill="none" stroke="#000000" stroke-width="7.6"/><circle cx="1296.6" cy="1008.93" r="15" fill="none" stroke="#000000" stroke-width="7.6"/><circle cx="1324.1" cy="1135.79" r="15" fill="none" stroke="#000000" stroke-width="7.6"/><circle cx="1351.6" cy="1010.64" r="15" fill="none" stroke="#000000" stroke-width="7.6"/><circle cx="1379.1" cy="1158.26" r="15" fill="none" stroke="#000000" stroke-width="7.6"/><circle cx="1406.6" cy="1169.93" r="15" fill="none" stroke="#000000" stroke-width="7.6"/><circle cx="1434.1" cy="847.65" r="15" fill="none" stroke="#000000" stroke-width="7.6"/><circle cx="1461.6" cy="1122.42" r="15" fill="none" stroke="#000000" stroke-width="7.6"/><circle cx="1489.1" cy="1120.15" r="15" fill="none" stroke="#000000" stroke-width="7.6"/><circle cx="1516.6" cy="1151.72" r="15" fill="none" stroke="#000000" stroke-width="7.6"/><circle cx="1544.1" cy="1025.14" r="15" fill="none" stroke="#000000" stroke-width="7.6"/><circle cx="1571.6" cy="979.06" r="15" fill="none" stroke="#000000" stroke-width="7.6"/><circle cx="1599.1" cy="1125.84" r="15" fill="none" stroke="#000000" stroke-width="7.6"/><circle cx="1626.6" cy="971.67" r="15" fill="none" stroke="#000000" stroke-width="7.6"/><circle cx="1654.1" cy="1103.37" r="15" fill="none" stroke="#000000" stroke-width="7.6"/><circle cx="1681.6" cy="1047.33" r="15" fill="none" stroke="#000000" stroke-width="7.6"/></g>
<path d="M251.6 1031.69 L279.1 972.81 L306.6 1123.56 L334.1 883.21 L361.6 1001.82 L389.1 985.61 L416.6 598.48 L444.1 1095.12 L471.6 1024.29 L499.1 913.07 L526.6 1003.24 L554.1 1069.23 L581.6 1165.66 L609.1 1070.66 L636.6 1037.38 L664.1 696.61 L691.6 878.37 L719.1 1132.66 L746.6 1053.02 L774.1 1062.12 L801.6 985.04 L829.1 974.23 L856.6 1030.26 L884.1 847.37 L911.6 880.08 L939.1 692.34 L966.6 712.26 L994.1 703.15 L1021.6 889.18 L1049.1 753.5 L1076.6 1177.89 L1104.1 1012.63 L1131.6 1116.74 L1159.1 1191.83 L1186.6 901.98 L1214.1 861.87 L1241.6 1031.4 L1269.1 919.9 L1296.6 1015.76 L1324.1 1142.9 L1351.6 1010.64 L1379.1 1158.26 L1406.6 1167.37 L1434.1 850.21 L1461.6 1118.44 L1489.1 1116.17 L1516.6 1151.72 L1544.1 1025.14 L1571.6 983.9 L1599.1 1125.84 L1626.6 961.43 L1654.1 1086.87 L1681.6 1047.33" fill="none" stroke="#ff0000" stroke-width="7.6" stroke-linejoin="round" stroke-linecap="butt" stroke-dasharray="29.5 7 15 7"/>
<g><path d="M236.4 1031.69 H266.8 M251.6 1016.49 V1046.89 M240.85 1020.94 L262.35 1042.43 M240.85 1042.43 L262.35 1020.94" fill="none" stroke="#ff0000" stroke-width="7.6"/><path d="M263.9 972.81 H294.3 M279.1 957.61 V988.01 M268.35 962.06 L289.85 983.55 M268.35 983.55 L289.85 962.06" fill="none" stroke="#ff0000" stroke-width="7.6"/><path d="M291.4 1123.56 H321.8 M306.6 1108.36 V1138.76 M295.85 1112.81 L317.35 1134.31 M295.85 1134.31 L317.35 1112.81" fill="none" stroke="#ff0000" stroke-width="7.6"/><path d="M318.9 883.21 H349.3 M334.1 868.01 V898.41 M323.35 872.46 L344.85 893.95 M323.35 893.95 L344.85 872.46" fill="none" stroke="#ff0000" stroke-width="7.6"/><path d="M346.4 1001.82 H376.8 M361.6 986.62 V1017.02 M350.85 991.07 L372.35 1012.57 M350.85 1012.57 L372.35 991.07" fill="none" stroke="#ff0000" stroke-width="7.6"/><path d="M373.9 985.61 H404.3 M389.1 970.41 V1000.81 M378.35 974.86 L399.85 996.35 M378.35 996.35 L399.85 974.86" fill="none" stroke="#ff0000" stroke-width="7.6"/><path d="M401.4 598.48 H431.8 M416.6 583.28 V613.68 M405.85 587.73 L427.35 609.23 M405.85 609.23 L427.35 587.73" fill="none" stroke="#ff0000" stroke-width="7.6"/><path d="M428.9 1095.12 H459.3 M444.1 1079.92 V1110.32 M433.35 1084.37 L454.85 1105.87 M433.35 1105.87 L454.85 1084.37" fill="none" stroke="#ff0000" stroke-width="7.6"/><path d="M456.4 1024.29 H486.8 M471.6 1009.09 V1039.49 M460.85 1013.54 L482.35 1035.04 M460.85 1035.04 L482.35 1013.54" fill="none" stroke="#ff0000" stroke-width="7.6"/><path d="M483.9 913.07 H514.3 M499.1 897.87 V928.27 M488.35 902.33 L509.85 923.82 M488.35 923.82 L509.85 902.33" fill="none" stroke="#ff0000" stroke-width="7.6"/><path d="M511.4 1003.24 H541.8 M526.6 988.04 V1018.44 M515.85 992.49 L537.35 1013.99 M515.85 1013.99 L537.35 992.49" fill="none" stroke="#ff0000" stroke-width="7.6"/><path d="M538.9 1069.23 H569.3 M554.1 1054.03 V1084.43 M543.35 1058.49 L564.85 1079.98 M543.35 1079.98 L564.85 1058.49" fill="none" stroke="#ff0000" stroke-width="7.6"/><path d="M566.4 1165.66 H596.8 M581.6 1150.46 V1180.86 M570.85 1154.91 L592.35 1176.41 M570.85 1176.41 L592.35 1154.91" fill="none" stroke="#ff0000" stroke-width="7.6"/><path d="M593.9 1070.66 H624.3 M609.1 1055.46 V1085.86 M598.35 1059.91 L619.85 1081.4 M598.35 1081.4 L619.85 1059.91" fill="none" stroke="#ff0000" stroke-width="7.6"/><path d="M621.4 1037.38 H651.8 M636.6 1022.18 V1052.58 M625.85 1026.63 L647.35 1048.12 M625.85 1048.12 L647.35 1026.63" fill="none" stroke="#ff0000" stroke-width="7.6"/><path d="M648.9 696.61 H679.3 M664.1 681.41 V711.81 M653.35 685.86 L674.85 707.36 M653.35 707.36 L674.85 685.86" fill="none" stroke="#ff0000" stroke-width="7.6"/><path d="M676.4 878.37 H706.8 M691.6 863.17 V893.57 M680.85 867.62 L702.35 889.12 M680.85 889.12 L702.35 867.62" fill="none" stroke="#ff0000" stroke-width="7.6"/><path d="M703.9 1132.66 H734.3 M719.1 1117.46 V1147.86 M708.35 1121.92 L729.85 1143.41 M708.35 1143.41 L729.85 1121.92" fill="none" stroke="#ff0000" stroke-width="7.6"/><path d="M731.4 1053.02 H761.8 M746.6 1037.82 V1068.22 M735.85 1042.27 L757.35 1063.77 M735.85 1063.77 L757.35 1042.27" fill="none" stroke="#ff0000" stroke-width="7.6"/><path d="M758.9 1062.12 H789.3 M774.1 1046.92 V1077.32 M763.35 1051.37 L784.85 1072.87 M763.35 1072.87 L784.85 1051.37" fill="none" stroke="#ff0000" stroke-width="7.6"/><path d="M786.4 985.04 H816.8 M801.6 969.84 V1000.24 M790.85 974.29 L812.35 995.79 M790.85 995.79 L812.35 974.29" fill="none" stroke="#ff0000" stroke-width="7.6"/><path d="M813.9 974.23 H844.3 M829.1 959.03 V989.43 M818.35 963.48 L839.85 984.98 M818.35 984.98 L839.85 963.48" fill="none" stroke="#ff0000" stroke-width="7.6"/><path d="M841.4 1030.26 H871.8 M856.6 1015.06 V1045.46 M845.85 1019.52 L867.35 1041.01 M845.85 1041.01 L867.35 1019.52" fill="none" stroke="#ff0000" stroke-width="7.6"/><path d="M868.9 847.37 H899.3 M884.1 832.17 V862.57 M873.35 836.62 L894.85 858.11 M873.35 858.11 L894.85 836.62" fill="none" stroke="#ff0000" stroke-width="7.6"/><path d="M896.4 880.08 H926.8 M911.6 864.88 V895.28 M900.85 869.33 L922.35 890.83 M900.85 890.83 L922.35 869.33" fill="none" stroke="#ff0000" stroke-width="7.6"/><path d="M923.9 692.34 H954.3 M939.1 677.14 V707.54 M928.35 681.6 L949.85 703.09 M928.35 703.09 L949.85 681.6" fill="none" stroke="#ff0000" stroke-width="7.6"/><path d="M951.4 712.26 H981.8 M966.6 697.06 V727.46 M955.85 701.51 L977.35 723 M955.85 723 L977.35 701.51" fill="none" stroke="#ff0000" stroke-width="7.6"/><path d="M978.9 703.15 H1009.3 M994.1 687.95 V718.35 M983.35 692.41 L1004.85 713.9 M983.35 713.9 L1004.85 692.41" fill="none" stroke="#ff0000" stroke-width="7.6"/><path d="M1006.4 889.18 H1036.8 M1021.6 873.98 V904.38 M1010.85 878.43 L1032.35 899.93 M1010.85 899.93 L1032.35 878.43" fill="none" stroke="#ff0000" stroke-width="7.6"/><path d="M1033.9 753.5 H1064.3 M1049.1 738.3 V768.7 M1038.35 742.75 L1059.85 764.25 M1038.35 764.25 L1059.85 742.75" fill="none" stroke="#ff0000" stroke-width="7.6"/><path d="M1061.4 1177.89 H1091.8 M1076.6 1162.69 V1193.09 M1065.85 1167.14 L1087.35 1188.64 M1065.85 1188.64 L1087.35 1167.14" fill="none" stroke="#ff0000" stroke-width="7.6"/><path d="M1088.9 1012.63 H1119.3 M1104.1 997.43 V1027.83 M1093.35 1001.88 L1114.85 1023.38 M1093.35 1023.38 L1114.85 1001.88" fill="none" stroke="#ff0000" stroke-width="7.6"/><path d="M1116.4 1116.74 H1146.8 M1131.6 1101.54 V1131.94 M1120.85 1105.99 L1142.35 1127.48 M1120.85 1127.48 L1142.35 1105.99" fill="none" stroke="#ff0000" stroke-width="7.6"/><path d="M1143.9 1191.83 H1174.3 M1159.1 1176.63 V1207.03 M1148.35 1181.08 L1169.85 1202.58 M1148.35 1202.58 L1169.85 1181.08" fill="none" stroke="#ff0000" stroke-width="7.6"/><path d="M1171.4 901.98 H1201.8 M1186.6 886.78 V917.18 M1175.85 891.23 L1197.35 912.73 M1175.85 912.73 L1197.35 891.23" fill="none" stroke="#ff0000" stroke-width="7.6"/><path d="M1198.9 861.87 H1229.3 M1214.1 846.67 V877.07 M1203.35 851.13 L1224.85 872.62 M1203.35 872.62 L1224.85 851.13" fill="none" stroke="#ff0000" stroke-width="7.6"/><path d="M1226.4 1031.4 H1256.8 M1241.6 1016.2 V1046.6 M1230.85 1020.65 L1252.35 1042.15 M1230.85 1042.15 L1252.35 1020.65" fill="none" stroke="#ff0000" stroke-width="7.6"/><path d="M1253.9 919.9 H1284.3 M1269.1 904.7 V935.1 M1258.35 909.15 L1279.85 930.65 M1258.35 930.65 L1279.85 909.15" fill="none" stroke="#ff0000" stroke-width="7.6"/><path d="M1281.4 1015.76 H1311.8 M1296.6 1000.56 V1030.96 M1285.85 1005.01 L1307.35 1026.51 M1285.85 1026.51 L1307.35 1005.01" fill="none" stroke="#ff0000" stroke-width="7.6"/><path d="M1308.9 1142.9 H1339.3 M1324.1 1127.7 V1158.1 M1313.35 1132.16 L1334.85 1153.65 M1313.35 1153.65 L1334.85 1132.16" fill="none" stroke="#ff0000" stroke-width="7.6"/><path d="M1336.4 1010.64 H1366.8 M1351.6 995.44 V1025.84 M1340.85 999.89 L1362.35 1021.39 M1340.85 1021.39 L1362.35 999.89" fill="none" stroke="#ff0000" stroke-width="7.6"/><path d="M1363.9 1158.26 H1394.3 M1379.1 1143.06 V1173.46 M1368.35 1147.52 L1389.85 1169.01 M1368.35 1169.01 L1389.85 1147.52" fill="none" stroke="#ff0000" stroke-width="7.6"/><path d="M1391.4 1167.37 H1421.8 M1406.6 1152.17 V1182.57 M1395.85 1156.62 L1417.35 1178.11 M1395.85 1178.11 L1417.35 1156.62" fill="none" stroke="#ff0000" stroke-width="7.6"/><path d="M1418.9 850.21 H1449.3 M1434.1 835.01 V865.41 M1423.35 839.46 L1444.85 860.96 M1423.35 860.96 L1444.85 839.46" fill="none" stroke="#ff0000" stroke-width="7.6"/><path d="M1446.4 1118.44 H1476.8 M1461.6 1103.24 V1133.64 M1450.85 1107.69 L1472.35 1129.19 M1450.85 1129.19 L1472.35 1107.69" fill="none" stroke="#ff0000" stroke-width="7.6"/><path d="M1473.9 1116.17 H1504.3 M1489.1 1100.97 V1131.37 M1478.35 1105.42 L1499.85 1126.91 M1478.35 1126.91 L1499.85 1105.42" fill="none" stroke="#ff0000" stroke-width="7.6"/><path d="M1501.4 1151.72 H1531.8 M1516.6 1136.52 V1166.92 M1505.85 1140.97 L1527.35 1162.47 M1505.85 1162.47 L1527.35 1140.97" fill="none" stroke="#ff0000" stroke-width="7.6"/><path d="M1528.9 1025.14 H1559.3 M1544.1 1009.94 V1040.34 M1533.35 1014.4 L1554.85 1035.89 M1533.35 1035.89 L1554.85 1014.4" fill="none" stroke="#ff0000" stroke-width="7.6"/><path d="M1556.4 983.9 H1586.8 M1571.6 968.7 V999.1 M1560.85 973.15 L1582.35 994.65 M1560.85 994.65 L1582.35 973.15" fill="none" stroke="#ff0000" stroke-width="7.6"/><path d="M1583.9 1125.84 H1614.3 M1599.1 1110.64 V1141.04 M1588.35 1115.09 L1609.85 1136.59 M1588.35 1136.59 L1609.85 1115.09" fill="none" stroke="#ff0000" stroke-width="7.6"/><path d="M1611.4 961.43 H1641.8 M1626.6 946.23 V976.63 M1615.85 950.68 L1637.35 972.18 M1615.85 972.18 L1637.35 950.68" fill="none" stroke="#ff0000" stroke-width="7.6"/><path d="M1638.9 1086.87 H1669.3 M1654.1 1071.67 V1102.07 M1643.35 1076.12 L1664.85 1097.62 M1643.35 1097.62 L1664.85 1076.12" fill="none" stroke="#ff0000" stroke-width="7.6"/><path d="M1666.4 1047.33 H1696.8 M1681.6 1032.13 V1062.53 M1670.85 1036.58 L1692.35 1058.08 M1670.85 1058.08 L1692.35 1036.58" fill="none" stroke="#ff0000" stroke-width="7.6"/></g>
</g>
<path d="M499.3 1329.5 v-18.5 M499.3 49.5 v17.5 M774.3 1329.5 v-18.5 M774.3 49.5 v17.5 M1049.3 1329.5 v-18.5 M1049.3 49.5 v17.5 M1324.3 1329.5 v-18.5 M1324.3 49.5 v17.5 M1599.3 1329.5 v-18.5 M1599.3 49.5 v17.5 M223.3 1187.3 h18.7 M1874.3 1187.3 h-18 M223.3 1045.3 h18.7 M1874.3 1045.3 h-18 M223.3 902.3 h18.7 M1874.3 902.3 h-18 M223.3 760.3 h18.7 M1874.3 760.3 h-18 M223.3 618.3 h18.7 M1874.3 618.3 h-18 M223.3 476.3 h18.7 M1874.3 476.3 h-18 M223.3 333.3 h18.7 M1874.3 333.3 h-18 M223.3 191.3 h18.7 M1874.3 191.3 h-18" stroke="#262626" stroke-width="2.6" fill="none"/>
<rect x="223.3" y="49.3" width="1651" height="1280" fill="none" stroke="#262626" stroke-width="2.6"/>
<g font-size="70.8" fill="#262626">
<text transform="translate(224.2 1419.2) scale(1 1.027)" text-anchor="middle">0</text>
<text transform="translate(499.2 1419.2) scale(1 1.027)" text-anchor="middle">10</text>
<text transform="translate(774.2 1419.2) scale(1 1.027)" text-anchor="middle">20</text>
<text transform="translate(1049.2 1419.2) scale(1 1.027)" text-anchor="middle">30</text>
<text transform="translate(1324.2 1419.2) scale(1 1.027)" text-anchor="middle">40</text>
<text transform="translate(1599.2 1419.2) scale(1 1.027)" text-anchor="middle">50</text>
<text transform="translate(1874.2 1419.2) scale(1 1.027)" text-anchor="middle">60</text>
<text transform="translate(197.8 1355) scale(1 1.027)" text-anchor="end">0</text>
<text transform="translate(197.8 1212.78) scale(1 1.027)" text-anchor="end">0.5</text>
<text transform="translate(197.8 1070.56) scale(1 1.027)" text-anchor="end">1</text>
<text transform="translate(197.8 928.33) scale(1 1.027)" text-anchor="end">1.5</text>
<text transform="translate(197.8 786.11) scale(1 1.027)" text-anchor="end">2</text>
<text transform="translate(197.8 643.89) scale(1 1.027)" text-anchor="end">2.5</text>
<text transform="translate(197.8 501.67) scale(1 1.027)" text-anchor="end">3</text>
<text transform="translate(197.8 359.44) scale(1 1.027)" text-anchor="end">3.5</text>
<text transform="translate(197.8 217.22) scale(1 1.027)" text-anchor="end">4</text>
<text transform="translate(197.8 75) scale(1 1.027)" text-anchor="end">4.5</text>
</g>
<text x="1049.1" y="1509.8" font-size="78.5" fill="#262626" text-anchor="middle">Time (s)</text>
<text transform="translate(79.5 690.7) rotate(-90)" font-size="78.5" fill="#262626" text-anchor="middle">Position RMSE</text>
<rect x="1386.3" y="88.3" width="448" height="480" fill="#fff" stroke="#262626" stroke-width="2.6"/>
<path d="M1401 134.4 H1553" fill="none" stroke="#00ff00" stroke-width="7" stroke-dasharray="29.5 28.5"/>
<path d="M1466.46 116.15 L1498.07 134.4 L1466.46 152.65 Z" fill="none" stroke="#00ff00" stroke-width="6.8" stroke-linejoin="miter" stroke-miterlimit="10"/>
<text x="1564" y="157" font-size="63.75" fill="#000">Koch</text>
<path d="M1401 212.16 H1553" fill="none" stroke="#00ffff" stroke-width="7.6"/>
<text x="1564" y="234.76" font-size="63.75" fill="#000">Feldmann</text>
<path d="M1401 289.92 H1553" fill="none" stroke="#ff00ff" stroke-width="7.6"/>
<path d="M1487.54 271.67 L1455.93 289.92 L1487.54 308.17 Z" fill="none" stroke="#ff00ff" stroke-width="7.6" stroke-linejoin="miter" stroke-miterlimit="10"/>
<text x="1564" y="312.52" font-size="63.75" fill="#000">Lan</text>
<path d="M1401 367.68 H1553" fill="none" stroke="#0000ff" stroke-width="7.6"/>
<rect x="1465.5" y="356.18" width="23" height="23" fill="none" stroke="#0000ff" stroke-width="7.6"/>
<text x="1564" y="390.28" font-size="63.75" fill="#000">RBPF-1</text>
<path d="M1401 445.44 H1553" fill="none" stroke="#000000" stroke-width="7.6" stroke-dasharray="29.5 28.5"/>
<circle cx="1477" cy="445.44" r="15" fill="none" stroke="#000000" stroke-width="7.6"/>
<text x="1564" y="468.04" font-size="63.75" fill="#000">RBPF-2</text>
<path d="M1401 523.2 H1553" fill="none" stroke="#ff0000" stroke-width="7.6" stroke-dasharray="29.5 7 15 7"/>
<path d="M1461.8 523.2 H1492.2 M1477 508 V538.4 M1466.25 512.45 L1487.75 533.95 M1466.25 533.95 L1487.75 512.45" fill="none" stroke="#ff0000" stroke-width="7.6"/>
<text x="1564" y="545.8" font-size="63.75" fill="#000">RBPF-3</text>
</svg>
</body></html>
